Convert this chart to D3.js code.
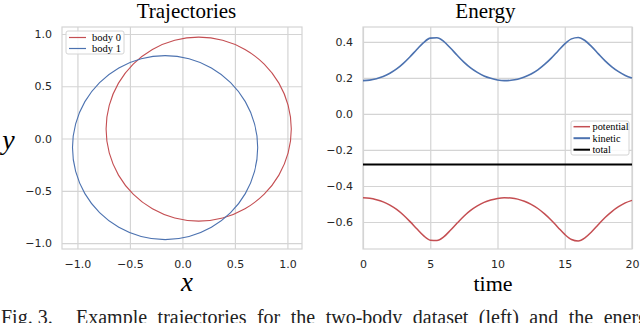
<!DOCTYPE html>
<html>
<head>
<meta charset="utf-8">
<script src="https://cdn.jsdelivr.net/npm/d3@7"></script>
<style>
  html, body { margin: 0; padding: 0; background: #fff; overflow: hidden; }
  svg { display: block; }
</style>
</head>
<body>
<svg id="chart" width="640" height="323"></svg>
<script>
// ---------- Data ----------
// Trajectories (left panel)
const body0X = [1.037, 1.007, 0.919, 0.779, 0.596, 0.383, 0.155, -0.073, -0.286, -0.469, -0.609, -0.697,
                -0.727, -0.697, -0.609, -0.469, -0.286, -0.073, 0.155, 0.383, 0.596, 0.779, 0.919, 1.007];
const body0Y = [0.090, 0.318, 0.530, 0.712, 0.852, 0.940, 0.970, 0.940, 0.852, 0.712, 0.530, 0.318,
                0.090, -0.138, -0.350, -0.532, -0.672, -0.760, -0.790, -0.760, -0.672, -0.532, -0.350, -0.138];
const body1X = [0.717, 0.687, 0.599, 0.459, 0.276, 0.063, -0.165, -0.393, -0.606, -0.789, -0.929, -1.017,
                -1.047, -1.017, -0.929, -0.789, -0.606, -0.393, -0.165, 0.063, 0.276, 0.459, 0.599, 0.687];
const body1Y = [-0.087, 0.141, 0.353, 0.535, 0.675, 0.763, 0.793, 0.763, 0.675, 0.535, 0.353, 0.141,
                -0.087, -0.315, -0.527, -0.709, -0.849, -0.937, -0.967, -0.937, -0.849, -0.709, -0.527, -0.315];
const trajTicks = [-1.0, -0.5, 0.0, 0.5, 1.0];
const trajLegend = ["body 0", "body 1"];

// Energy (right panel)
const times = [0, 0.5, 1, 1.5, 2, 2.5, 3, 3.5, 4, 4.5, 5, 5.5, 6, 6.5, 7, 7.5, 8, 8.5, 9, 9.5, 10,
               10.5, 11, 11.5, 12, 12.5, 13, 13.5, 14, 14.5, 15, 15.5, 16, 16.5, 17, 17.5, 18, 18.5, 19, 19.5, 20];
const potential = [-0.465, -0.468, -0.476, -0.488, -0.506, -0.530, -0.561, -0.598, -0.638, -0.676, -0.701,
                   -0.703, -0.683, -0.646, -0.606, -0.568, -0.536, -0.511, -0.491, -0.478, -0.469,
                   -0.465, -0.467, -0.473, -0.485, -0.502, -0.525, -0.555, -0.590, -0.630, -0.669,
                   -0.697, -0.705, -0.688, -0.654, -0.614, -0.575, -0.542, -0.515, -0.494, -0.480];
const kinetic = [0.185, 0.188, 0.196, 0.208, 0.226, 0.250, 0.281, 0.318, 0.358, 0.396, 0.421,
                 0.423, 0.403, 0.366, 0.326, 0.288, 0.256, 0.231, 0.211, 0.198, 0.189,
                 0.185, 0.187, 0.193, 0.205, 0.222, 0.245, 0.275, 0.310, 0.350, 0.389,
                 0.417, 0.425, 0.408, 0.374, 0.334, 0.295, 0.262, 0.235, 0.214, 0.200];
const total = [-0.280, -0.280, -0.280, -0.280, -0.280, -0.280, -0.280, -0.280, -0.280, -0.280, -0.280,
               -0.280, -0.280, -0.280, -0.280, -0.280, -0.280, -0.280, -0.280, -0.280, -0.280,
               -0.280, -0.280, -0.280, -0.280, -0.280, -0.280, -0.280, -0.280, -0.280, -0.280,
               -0.280, -0.280, -0.280, -0.280, -0.280, -0.280, -0.280, -0.280, -0.280, -0.280];
const energyXTicks = [0, 5, 10, 15, 20];
const energyYTicks = [-0.6, -0.4, -0.2, 0.0, 0.2, 0.4];
const energyLegend = ["potential", "kinetic", "total"];
const captionLabel = "Fig. 3.";
const captionText = "Example trajectories for the two-body dataset (left) and the energy";

// ---------- Styles ----------
const RED = "#c44e52", BLUE = "#4c72b0", BLACK = "#000000";
const GRID = "#d4d4d4";
const tickFont = "'DejaVu Sans', sans-serif";
const serif = "'Liberation Serif', 'Times New Roman', serif";

const svg = d3.select("#chart");
const fmt1 = d => d3.format(".1f")(d).replace("-", "\u2212");

// ---------- Left panel: Trajectories ----------
const L = { left: 62, right: 302, top: 27, bottom: 249 };
const xL = d3.scaleLinear().domain([-1.147, 1.139]).range([L.left, L.right]);
const yL = d3.scaleLinear().domain([-1.057, 1.067]).range([L.bottom, L.top]);

const gL = svg.append("g");
// grid
gL.append("g").attr("transform", `translate(0,${L.bottom})`)
  .call(d3.axisBottom(xL).tickValues(trajTicks).tickSize(-(L.bottom - L.top)).tickFormat(""))
  .call(g => g.select(".domain").remove())
  .call(g => g.selectAll("line").attr("stroke", GRID).attr("stroke-width", 1.2));
gL.append("g").attr("transform", `translate(${L.left},0)`)
  .call(d3.axisLeft(yL).tickValues(trajTicks).tickSize(-(L.right - L.left)).tickFormat(""))
  .call(g => g.select(".domain").remove())
  .call(g => g.selectAll("line").attr("stroke", GRID).attr("stroke-width", 1.2));
// tick labels
gL.append("g").attr("transform", `translate(0,${L.bottom})`)
  .call(d3.axisBottom(xL).tickValues(trajTicks).tickSize(0).tickPadding(11).tickFormat(fmt1))
  .call(g => g.select(".domain").remove())
  .call(g => g.selectAll("text").attr("font-family", tickFont).attr("font-size", 11).attr("fill", "#262626"));
gL.append("g").attr("transform", `translate(${L.left},0)`)
  .call(d3.axisLeft(yL).tickValues(trajTicks).tickSize(0).tickPadding(10).tickFormat(fmt1))
  .call(g => g.select(".domain").remove())
  .call(g => g.selectAll("text").attr("font-family", tickFont).attr("font-size", 11).attr("fill", "#262626"));
// frame
gL.append("rect").attr("x", L.left).attr("y", L.top)
  .attr("width", L.right - L.left).attr("height", L.bottom - L.top)
  .attr("fill", "none").attr("stroke", GRID).attr("stroke-width", 1.2);

const trajLine = d3.line().x(d => xL(d[0])).y(d => yL(d[1])).curve(d3.curveCatmullRomClosed);
const b0 = body0X.map((v, i) => [v, body0Y[i]]);
const b1 = body1X.map((v, i) => [v, body1Y[i]]);
gL.append("path").attr("d", trajLine(b0)).attr("fill", "none").attr("stroke", RED).attr("stroke-width", 1.1);
gL.append("path").attr("d", trajLine(b1)).attr("fill", "none").attr("stroke", BLUE).attr("stroke-width", 1.1);

// legend
const legL = gL.append("g");
legL.append("rect").attr("x", 66).attr("y", 31).attr("width", 58).attr("height", 23)
  .attr("rx", 2).attr("fill", "#fff").attr("fill-opacity", 0.85).attr("stroke", GRID).attr("stroke-width", 1);
[RED, BLUE].forEach((c, i) => {
  const y = 37.5 + i * 11;
  legL.append("line").attr("x1", 69).attr("x2", 86).attr("y1", y).attr("y2", y)
    .attr("stroke", c).attr("stroke-width", 1.2);
  legL.append("text").attr("x", 92).attr("y", y + 3.3).text(trajLegend[i])
    .attr("font-family", serif).attr("font-size", 10.5).attr("fill", "#000");
});

// titles & labels
svg.append("text").attr("x", 186.5).attr("y", 18).attr("text-anchor", "middle")
  .attr("font-family", serif).attr("font-size", 21).text("Trajectories");
svg.append("text").attr("x", 8.5).attr("y", 149).attr("text-anchor", "middle")
  .attr("font-family", serif).attr("font-style", "italic").attr("font-size", 28).text("y");
svg.append("text").attr("x", 187).attr("y", 291).attr("text-anchor", "middle")
  .attr("font-family", serif).attr("font-style", "italic").attr("font-size", 27).text("x");

// ---------- Right panel: Energy ----------
const R = { left: 363, right: 632, top: 27, bottom: 249 };
const xR = d3.scaleLinear().domain([0, 20]).range([R.left, R.right]);
const yR = d3.scaleLinear().domain([-0.75, 0.483]).range([R.bottom, R.top]);

const gR = svg.append("g");
gR.append("g").attr("transform", `translate(0,${R.bottom})`)
  .call(d3.axisBottom(xR).tickValues(energyXTicks).tickSize(-(R.bottom - R.top)).tickFormat(""))
  .call(g => g.select(".domain").remove())
  .call(g => g.selectAll("line").attr("stroke", GRID).attr("stroke-width", 1.2));
gR.append("g").attr("transform", `translate(${R.left},0)`)
  .call(d3.axisLeft(yR).tickValues(energyYTicks).tickSize(-(R.right - R.left)).tickFormat(""))
  .call(g => g.select(".domain").remove())
  .call(g => g.selectAll("line").attr("stroke", GRID).attr("stroke-width", 1.2));
gR.append("g").attr("transform", `translate(0,${R.bottom})`)
  .call(d3.axisBottom(xR).tickValues(energyXTicks).tickSize(0).tickPadding(11).tickFormat(d3.format("d")))
  .call(g => g.select(".domain").remove())
  .call(g => g.selectAll("text").attr("font-family", tickFont).attr("font-size", 11).attr("fill", "#262626"));
gR.append("g").attr("transform", `translate(${R.left},0)`)
  .call(d3.axisLeft(yR).tickValues(energyYTicks).tickSize(0).tickPadding(10).tickFormat(fmt1))
  .call(g => g.select(".domain").remove())
  .call(g => g.selectAll("text").attr("font-family", tickFont).attr("font-size", 11).attr("fill", "#262626"));
gR.append("rect").attr("x", R.left).attr("y", R.top)
  .attr("width", R.right - R.left).attr("height", R.bottom - R.top)
  .attr("fill", "none").attr("stroke", GRID).attr("stroke-width", 1.2);

const eLine = arr => d3.line().x((d, i) => xR(times[i])).y(d => yR(d)).curve(d3.curveMonotoneX)(arr);
gR.append("path").attr("d", eLine(potential)).attr("fill", "none").attr("stroke", RED).attr("stroke-width", 1.5);
gR.append("path").attr("d", eLine(kinetic)).attr("fill", "none").attr("stroke", BLUE).attr("stroke-width", 1.6);
gR.append("path").attr("d", eLine(total)).attr("fill", "none").attr("stroke", BLACK).attr("stroke-width", 2);

const legR = gR.append("g");
legR.append("rect").attr("x", 571).attr("y", 121).attr("width", 58).attr("height", 34)
  .attr("rx", 2).attr("fill", "#fff").attr("fill-opacity", 0.85).attr("stroke", GRID).attr("stroke-width", 1);
[RED, BLUE, BLACK].forEach((c, i) => {
  const y = 126.7 + i * 11.5;
  legR.append("line").attr("x1", 573.5).attr("x2", 590).attr("y1", y).attr("y2", y)
    .attr("stroke", c).attr("stroke-width", i === 0 ? 1.5 : 2);
  legR.append("text").attr("x", 592.5).attr("y", y + 3.3).text(energyLegend[i])
    .attr("font-family", serif).attr("font-size", 10.3).attr("fill", "#000");
});

svg.append("text").attr("x", 485.5).attr("y", 18).attr("text-anchor", "middle")
  .attr("font-family", serif).attr("font-size", 21).text("Energy");
svg.append("text").attr("x", 493).attr("y", 291).attr("text-anchor", "middle")
  .attr("font-family", serif).attr("font-size", 22).text("time");

// caption (cut off at the bottom edge, as in the reference)
svg.append("text").attr("x", 1).attr("y", 324)
  .attr("font-family", serif).attr("font-size", 20).attr("fill", "#222").text(captionLabel);
svg.append("text").attr("x", 76).attr("y", 324)
  .attr("font-family", serif).attr("font-size", 20).attr("word-spacing", 5.5).attr("fill", "#222")
  .text(captionText);
</script>
</body>
</html>
